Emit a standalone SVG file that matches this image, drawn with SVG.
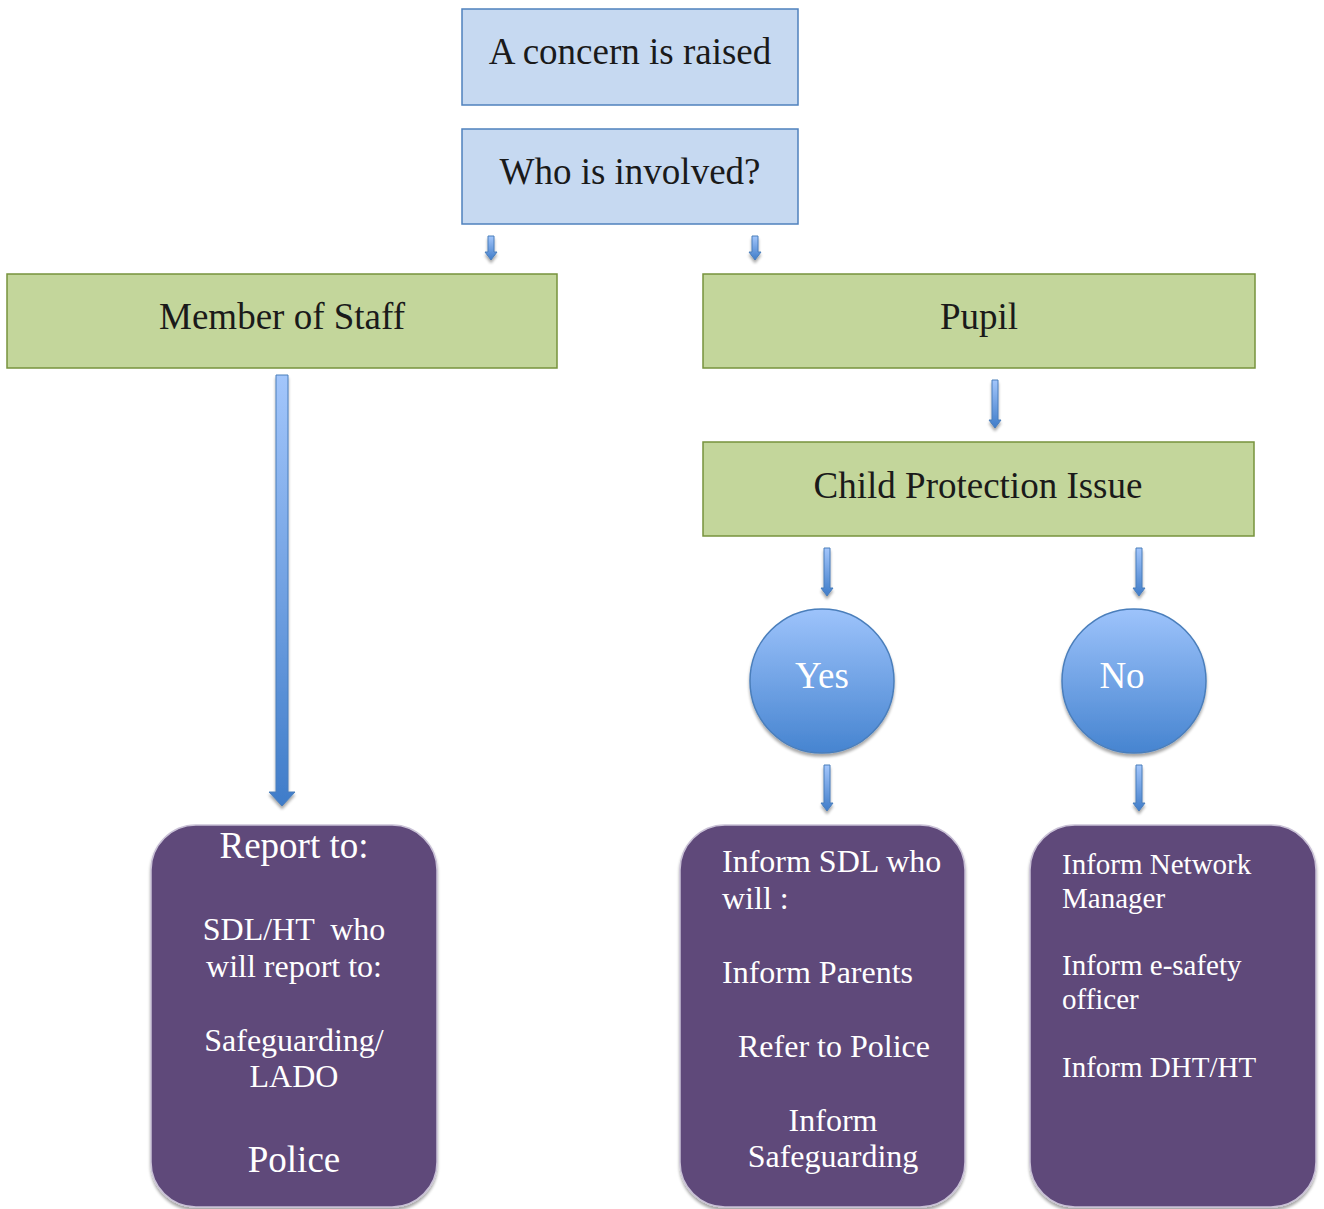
<svg xmlns="http://www.w3.org/2000/svg" width="1324" height="1209" viewBox="0 0 1324 1209">
<defs>
<linearGradient id="gArrow" x1="0" y1="0" x2="0" y2="1">
<stop offset="0" stop-color="#a3c6fb"/>
<stop offset="1" stop-color="#3f7cc9"/>
</linearGradient>
<linearGradient id="gCircle" x1="0" y1="0" x2="0" y2="1">
<stop offset="0" stop-color="#9dc3fb"/>
<stop offset="1" stop-color="#4684d0"/>
</linearGradient>
<filter id="shadow" x="-20%" y="-20%" width="140%" height="140%">
<feGaussianBlur in="SourceAlpha" stdDeviation="1.5"/>
<feOffset dx="0" dy="3" result="b"/>
<feComponentTransfer><feFuncA type="linear" slope="0.35"/></feComponentTransfer>
<feMerge><feMergeNode/><feMergeNode in="SourceGraphic"/></feMerge>
</filter>
</defs>
<style>
.blue{fill:#c6d9f1;stroke:#4f81bd;stroke-width:1.5}
.green{fill:#c3d69b;stroke:#77933c;stroke-width:1.5}
.purple{fill:#5f497a;stroke:#c9c1d6;stroke-width:1.5}
.circ{fill:url(#gCircle);stroke:#4a7ebb;stroke-width:1.5}
.arr{fill:url(#gArrow);stroke:#4a7ebb;stroke-width:1}
.t{font-family:"Liberation Serif","Times New Roman",serif;fill:#1a1a1a;font-size:37px}
.w{font-family:"Liberation Serif","Times New Roman",serif;fill:#ffffff;font-size:32px}
.c{text-anchor:middle}
</style>
<rect width="1324" height="1209" fill="#ffffff"/>
<g id="connectors">
<path class="arr" filter="url(#shadow)" d="M488,236 H494 V252 H497 L491,260 L485,252 H488 Z"/>
<path class="arr" filter="url(#shadow)" d="M752,236 H758 V252 H761 L755,260 L749,252 H752 Z"/>
<path class="arr" filter="url(#shadow)" d="M276,375 H288 V792 H295 L282,806 L269,792 H276 Z"/>
<path class="arr" filter="url(#shadow)" d="M992,380 H998 V420 H1001 L995,428 L989,420 H992 Z"/>
<path class="arr" filter="url(#shadow)" d="M824,548 H830 V588 H833 L827,596 L821,588 H824 Z"/>
<path class="arr" filter="url(#shadow)" d="M1136,548 H1142 V588 H1145 L1139,596 L1133,588 H1136 Z"/>
<path class="arr" filter="url(#shadow)" d="M824,765 H830 V803 H833 L827,811 L821,803 H824 Z"/>
<path class="arr" filter="url(#shadow)" d="M1136,765 H1142 V803 H1145 L1139,811 L1133,803 H1136 Z"/>
</g>
<g id="concern">
<rect class="blue" x="462" y="9" width="336" height="96"/>
<text class="t c" x="630" y="64">A concern is raised</text>
</g>
<g id="who">
<rect class="blue" x="462" y="129" width="336" height="95"/>
<text class="t c" x="630" y="184">Who is involved?</text>
</g>
<g id="staff">
<rect class="green" x="7" y="274" width="550" height="94"/>
<text class="t c" x="282" y="329">Member of Staff</text>
</g>
<g id="pupil">
<rect class="green" x="703" y="274" width="552" height="94"/>
<text class="t c" x="979" y="329">Pupil</text>
</g>
<g id="cpi">
<rect class="green" x="703" y="442" width="551" height="94"/>
<text class="t c" x="978" y="498">Child Protection Issue</text>
</g>
<g id="yes">
<circle class="circ" filter="url(#shadow)" cx="822" cy="681" r="72"/>
<text class="w c" x="822" y="688" style="font-size:37px">Yes</text>
</g>
<g id="no">
<circle class="circ" filter="url(#shadow)" cx="1134" cy="681" r="72"/>
<text class="w c" x="1122" y="688" style="font-size:37px">No</text>
</g>
<g id="report">
<rect class="purple" filter="url(#shadow)" x="151" y="825" width="286" height="382" rx="45"/>
<text class="w c" x="294" y="858" style="font-size:37px">Report to:</text>
<text class="w c" x="294" y="940" xml:space="preserve">SDL/HT  who</text>
<text class="w c" x="294" y="977">will report to:</text>
<text class="w c" x="294" y="1051">Safeguarding/</text>
<text class="w c" x="294" y="1087">LADO</text>
<text class="w c" x="294" y="1172" style="font-size:37px">Police</text>
</g>
<g id="inform-sdl">
<rect class="purple" filter="url(#shadow)" x="680" y="825" width="285" height="382" rx="45"/>
<text class="w" x="722" y="872">Inform SDL who</text>
<text class="w" x="722" y="909">will :</text>
<text class="w" x="722" y="983">Inform Parents</text>
<text class="w" x="738" y="1057">Refer to Police</text>
<text class="w c" x="833" y="1131">Inform</text>
<text class="w c" x="833" y="1167">Safeguarding</text>
</g>
<g id="inform-network">
<rect class="purple" filter="url(#shadow)" x="1030" y="825" width="286" height="382" rx="45"/>
<text class="w" x="1062" y="874" style="font-size:29px">Inform Network</text>
<text class="w" x="1062" y="908" style="font-size:29px">Manager</text>
<text class="w" x="1062" y="975" style="font-size:29px">Inform e-safety</text>
<text class="w" x="1062" y="1009" style="font-size:29px">officer</text>
<text class="w" x="1062" y="1077" style="font-size:29px">Inform DHT/HT</text>
</g>
</svg>
